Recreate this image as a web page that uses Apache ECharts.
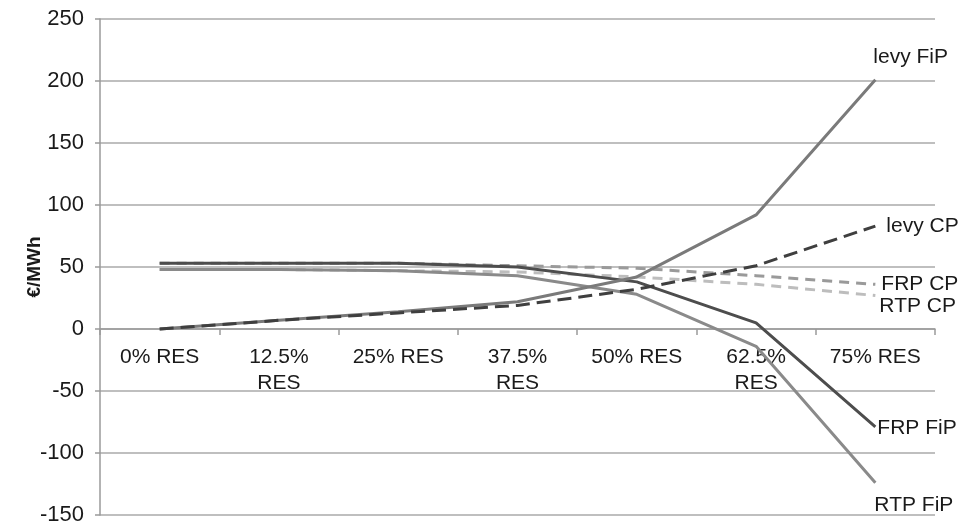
<!DOCTYPE html>
<html><head><meta charset="utf-8">
<script src="https://cdn.jsdelivr.net/npm/echarts@6/dist/echarts.min.js"></script>
<style>html,body{margin:0;padding:0;background:#fff}#c{width:970px;height:522px}</style>
</head><body><div id="c"></div>
<script>
const categories = ['0% RES','12.5% RES','25% RES','37.5% RES','50% RES','62.5% RES','75% RES'];
const yTicks = [-150,-100,-50,0,50,100,150,200,250];
const levyFiP = [0, 7, 14, 22, 42, 92, 201];
const levyCP  = [0, 7, 13, 19, 32, 51, 83];
const frpCP   = [53, 53, 53, 51, 49, 43, 36];
const rtpCP   = [48, 48, 47, 46, 42, 36, 27];
const frpFiP  = [53, 53, 53, 50, 38, 5, -79];
const rtpFiP  = [48, 48, 47, 43, 28, -14, -124];

const font = 'Liberation Sans, Arial, sans-serif';
const wrap = v => v.length > 8 ? v.replace(' ', '\n') : v;
function mk(name, data, color, dash, off){
  return {
    name, type:'line', data, showSymbol:false, symbol:'none', smooth:false,
    lineStyle:{color, width:3, type: dash || 'solid'},
    itemStyle:{color},
    endLabel:{show:true, formatter:name, color:'#1a1a1a', fontFamily:font, fontSize:21,
      distance:5, offset:off, align:'left', verticalAlign:'middle'},
    emphasis:{disabled:true}, animation:false
  };
}
const chart = echarts.init(document.getElementById('c'));
chart.setOption({
  animation:false,
  backgroundColor:'#fff',
  grid:{left:100, right:35, top:19, bottom:7, outerBoundsMode:'none', containLabel:false},
  xAxis:{type:'category', data:categories, boundaryGap:true,
    axisLine:{onZero:true, lineStyle:{color:'#9a9a9a', width:1.5}},
    axisTick:{show:true, length:6, lineStyle:{color:'#9a9a9a', width:1.5}},
    axisLabel:{show:false},
    splitLine:{show:false}},
  yAxis:{type:'value', min:-150, max:250, interval:50,
    name:'€/MWh', nameLocation:'middle', nameGap:56, nameRotate:90, nameMoveOverlap:false,
    nameTextStyle:{color:'#1a1a1a', fontFamily:font, fontSize:19, fontWeight:'bold'},
    axisLine:{show:true, lineStyle:{color:'#9a9a9a', width:1.5}},
    axisTick:{show:true, length:5, lineStyle:{color:'#9a9a9a', width:1.5}},
    axisLabel:{color:'#1a1a1a', fontFamily:font, fontSize:22, margin:16,
      formatter: v => yTicks.includes(v) ? String(v) : ''},
    splitLine:{lineStyle:{color:'#aaaaaa', width:1.5}}},
  series:[
    mk('FRP CP', frpCP, '#9a9a9a', [10,7], [1,0]),
    mk('RTP CP', rtpCP, '#bdbdbd', [10,7], [-1,11]),
    mk('RTP FiP', rtpFiP, '#8a8a8a', null, [-6,22]),
    mk('FRP FiP', frpFiP, '#4d4d4d', null, [-3,1]),
    mk('levy FiP', levyFiP, '#7a7a7a', null, [-7,-23]),
    mk('levy CP', levyCP, '#3f3f3f', [14,7], [6,0]),
    {type:'custom', silent:true, z:1, clip:false,
      data: categories.map((c,i)=>[i,0]),
      renderItem:(params, api)=>{
        const p = api.coord([api.value(0), api.value(1)]);
        return {type:'text', x:p[0], y:p[1]+15,
          style:{text: wrap(categories[params.dataIndex]), fill:'#1a1a1a',
            font:'21px ' + font, align:'center', verticalAlign:'top', lineHeight:26}};
      }}
  ]
});
</script></body></html>
